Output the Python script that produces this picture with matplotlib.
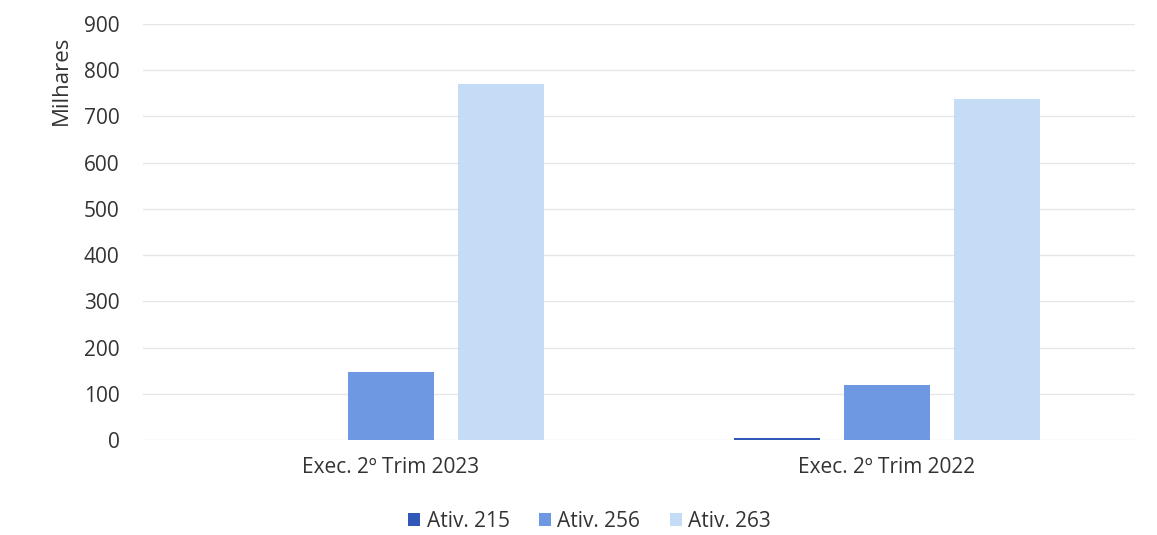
import numpy as np
from matplotlib import pyplot as plt

categories = ['Exec. 2º Trim 2023', 'Exec. 2º Trim 2022']
series_names = ['Ativ. 215', 'Ativ. 256', 'Ativ. 263']
ativ_215 = [0, 5]
ativ_256 = [148, 119]
ativ_263 = [770, 738]
colors = ['#2f58b8', '#6f98e2', '#c4dcf6']

plt.rcParams['font.family'] = ['Open Sans', 'DejaVu Sans']

fig = plt.figure(figsize=(11.57, 5.35), dpi=100)
ax = fig.add_axes([0.1236, 0.1776, 0.8574, 0.7774])

x = np.arange(len(categories))
width = 0.174
step = 0.222
for i, (vals, name) in enumerate(zip([ativ_215, ativ_256, ativ_263], series_names)):
    ax.bar(x + (i - 1) * step, vals, width, color=colors[i], label=name, zorder=3)

ax.set_xlim(-0.5, 1.5)
ax.set_ylim(0, 900)
ax.set_yticks(range(0, 901, 100))
ax.set_xticks(x)
ax.set_xticklabels(categories)
ax.tick_params(length=0, labelsize=15, colors='#333333')
ax.tick_params(axis='x', pad=12)
ax.tick_params(axis='y', pad=17)
ax.grid(axis='y', color='#e6e6e6', linewidth=1, zorder=0)
for s in ax.spines.values():
    s.set_visible(False)
ax.set_ylabel('Milhares', fontsize=16, color='#333333')
ax.yaxis.set_label_coords(-0.072, 0.865)

ax.legend(loc='upper center', bbox_to_anchor=(0.45, -0.125), ncol=3, frameon=False,
          fontsize=15, handlelength=0.6, handleheight=0.6, handletextpad=0.3,
          columnspacing=1.4, labelcolor='#333333')

fig.savefig('out.png', dpi=100)
